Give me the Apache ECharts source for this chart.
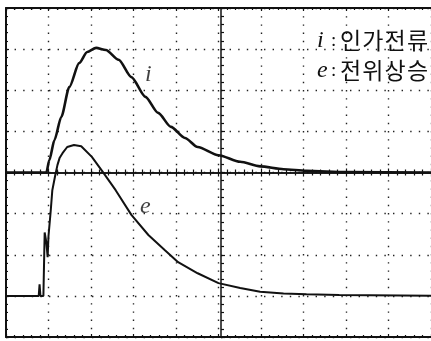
<!DOCTYPE html>
<html>
<head>
<meta charset="utf-8">
<script src="https://cdn.jsdelivr.net/npm/echarts@6.0.0/dist/echarts.min.js"></script>
<style>
  html, body { margin: 0; padding: 0; background: #fff; }
  #chart { width: 431px; height: 341px; }
</style>
</head>
<body>
<div id="chart"></div>
<script>
// 인가전류 i (divisions, center line = 0)
var iX = [0, 0.95, 1.02, 1.14, 1.30, 1.49, 1.72, 1.91, 2.12, 2.35, 2.65, 2.95, 3.28, 3.58, 3.88, 4.21, 4.51, 5.0, 5.51, 5.98, 6.53, 7.07, 8.0, 10];
var iY = [0, 0, 0.30, 0.79, 1.35, 2.08, 2.66, 2.93, 3.03, 2.98, 2.74, 2.32, 1.84, 1.45, 1.11, 0.84, 0.62, 0.42, 0.26, 0.15, 0.08, 0.04, 0.01, 0];
// 전위상승 e
var eX = [0, 0.77, 0.79, 0.81, 0.88, 0.91, 0.95, 0.98, 1.0, 1.05, 1.09, 1.16, 1.21, 1.26, 1.33, 1.44, 1.60, 1.77, 2.02, 2.26, 2.58, 2.95, 3.35, 3.74, 4.05, 4.51, 5.0, 5.51, 5.98, 6.53, 7.07, 7.84, 10];
var eY = [-3, -3, -2.72, -3, -3, -1.46, -1.70, -2.06, -1.54, -0.96, -0.43, -0.06, 0.18, 0.35, 0.47, 0.62, 0.67, 0.64, 0.38, 0.04, -0.43, -1.03, -1.52, -1.89, -2.18, -2.45, -2.69, -2.81, -2.90, -2.94, -2.96, -2.98, -3];
// 곡선 이름 표시 위치
var curveLabels = [
  { name: 'i', value: [3.35, 2.37] },
  { name: 'e', value: [3.28, -0.84] }
];
var legendSyms = ['i', 'e'];
var legendTexts = ['인가전류', '전위상승'];

function zip(xs, ys) {
  var out = [];
  for (var k = 0; k < xs.length; k++) {
    out.push([xs[k], ys[k]]);
  }
  return out;
}

var chart = echarts.init(document.getElementById('chart'));

var tickStyle = { color: '#111', width: 1.2 };

function xAx(pos, offset, len, minorLen, split) {
  return {
    type: 'value', min: 0, max: 10, interval: 1, position: pos, offset: offset,
    axisLine: { show: true, onZero: false, lineStyle: { color: '#111', width: offset ? 1.5 : 2 } },
    axisTick: { show: true, inside: true, length: len, lineStyle: tickStyle },
    minorTick: { show: true, splitNumber: 5, length: minorLen, lineStyle: tickStyle },
    axisLabel: { show: false },
    splitLine: { show: split, lineStyle: { color: '#222', width: 1.4, type: [1.4, 6.8] } }
  };
}
function yAx(pos, offset, len, minorLen, split) {
  return {
    type: 'value', min: -4, max: 4, interval: 1, position: pos, offset: offset,
    axisLine: { show: true, onZero: false, lineStyle: { color: '#111', width: offset ? 1.5 : 2 } },
    axisTick: { show: true, inside: true, length: len, lineStyle: tickStyle },
    minorTick: { show: true, splitNumber: 5, length: minorLen, lineStyle: tickStyle },
    axisLabel: { show: false },
    splitLine: { show: split, lineStyle: { color: '#222', width: 1.4, type: [1.4, 7.2] } }
  };
}

// 범례 텍스트 (우측 상단) - 원본처럼 글자 간격을 넓게
var legendGraphics = [];
for (var k = 0; k < legendSyms.length; k++) {
  var rowTop = 29 + k * 30;
  legendGraphics.push({
    type: 'text', left: 317, top: rowTop,
    style: { text: legendSyms[k], font: 'italic 24px "Liberation Serif"', fill: '#111' }
  });
  legendGraphics.push({
    type: 'text', left: 331, top: rowTop + 3,
    style: { text: ':', font: '19px "Liberation Serif"', fill: '#111' }
  });
  var chars = legendTexts[k].split('');
  for (var c = 0; c < chars.length; c++) {
    legendGraphics.push({
      type: 'text', left: 340 + c * 22.3, top: rowTop,
      style: { text: chars[c], font: '23px "Noto Sans CJK KR"', fill: '#111' }
    });
  }
}

var option = {
  backgroundColor: '#fff',
  animation: false,
  grid: { left: 6, top: 8, width: 430, height: 329, containLabel: false },
  xAxis: [
    xAx('bottom', 0, 3, 2, true),
    xAx('top', 0, 3, 2, false),
    xAx('bottom', -164.5, 4, 3, false),
    xAx('top', -164.5, 4, 3, false)
  ],
  yAxis: [
    yAx('left', 0, 3, 2, true),
    yAx('left', -215, 4, 3, false),
    yAx('right', 215, 4, 3, false)
  ],
  graphic: legendGraphics,
  series: [
    {
      name: 'i', type: 'line', data: zip(iX, iY), showSymbol: false,
      smooth: 0.25, smoothMonotone: 'x',
      lineStyle: { color: '#111', width: 2.6 }, z: 5
    },
    {
      name: 'e', type: 'line', data: zip(eX, eY), showSymbol: false,
      lineStyle: { color: '#111', width: 2 }, z: 5
    },
    {
      type: 'scatter', data: curveLabels, symbolSize: 0,
      label: {
        show: true, position: 'inside', formatter: '{b}',
        fontFamily: 'Liberation Serif', fontStyle: 'italic', fontSize: 24, color: '#111'
      }
    }
  ]
};

chart.setOption(option);
</script>
</body>
</html>
